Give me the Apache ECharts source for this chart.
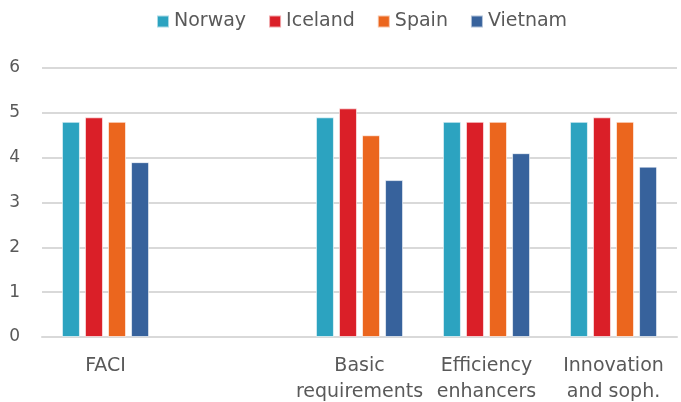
<!DOCTYPE html>
<html>
<head>
<meta charset="utf-8">
<script src="https://cdn.jsdelivr.net/npm/echarts@6/dist/echarts.min.js"></script>
<style>
  html, body { margin: 0; padding: 0; background: #fff; }
  #chart { width: 681px; height: 402px; }
</style>
</head>
<body>
<div id="chart"></div>
<script>
// categories (empty slot between FACI and the pillars)
const categories = ['FACI', '', 'Basic\nrequirements', 'Efficiency\nenhancers', 'Innovation\nand soph.']
const norway = [4.8, '-', 4.9, 4.8, 4.8]
const iceland = [4.9, '-', 5.1, 4.8, 4.9]
const spain = [4.8, '-', 4.5, 4.8, 4.8]
const vietnam = [3.9, '-', 3.5, 4.1, 3.8]

const seriesNames = ['Norway', 'Iceland', 'Spain', 'Vietnam']
const seriesColors = ['#2CA3C0', '#DA1F28', '#EB661E', '#37629C']
const seriesData = [norway, iceland, spain, vietnam]

const textColor = '#595959'
const fontFamily = '"DejaVu Sans", sans-serif'

const chart = echarts.init(document.getElementById('chart'))

chart.setOption({
  animation: false,
  textStyle: { fontFamily },
  legend: {
    data: seriesNames,
    left: 151,
    top: 7,
    itemWidth: 12,
    itemHeight: 12,
    itemGap: 22,
    icon: 'rect',
    textStyle: { color: textColor, fontSize: 19, fontFamily }
  },
  grid: {
    left: 42,
    right: 4,
    top: 68,
    bottom: 65,
    outerBoundsMode: 'none'
  },
  xAxis: {
    type: 'category',
    data: categories,
    axisLine: { lineStyle: { color: '#d9d9d9', width: 2 } },
    axisTick: { show: false },
    axisLabel: {
      color: textColor,
      fontSize: 19,
      lineHeight: 26,
      margin: 16,
      interval: 0
    }
  },
  yAxis: {
    type: 'value',
    min: 0,
    max: 6,
    interval: 1,
    axisLine: { show: false },
    axisTick: { show: false },
    axisLabel: { color: textColor, fontSize: 17, margin: 22 },
    splitLine: { lineStyle: { color: '#d9d9d9', width: 2 } }
  },
  series: seriesNames.map((name, i) => ({
    name,
    type: 'bar',
    data: seriesData[i],
    barWidth: 18,
    barGap: '28%',
    itemStyle: {
      color: seriesColors[i],
      borderColor: 'rgba(255,255,255,0.6)',
      borderWidth: 1
    }
  }))
})
</script>
</body>
</html>
